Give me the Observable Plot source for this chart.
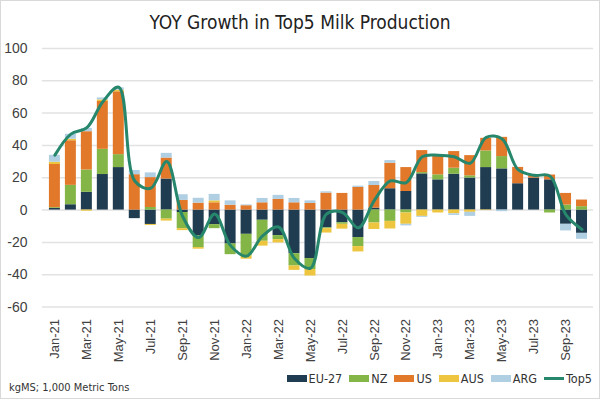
<!DOCTYPE html>
<html>
<head>
<meta charset="utf-8">
<script src="https://cdn.jsdelivr.net/npm/d3@7"></script>
<script src="https://cdn.jsdelivr.net/npm/@observablehq/plot@0.6"></script>
<style>
  body { margin: 0; background: #fff; }
  #wrap { position: relative; width: 600px; height: 399px; box-sizing: border-box; border: 1px solid #d9d9d9; overflow: hidden; font-family: "Liberation Sans", Arial, sans-serif; background:#fff; }
  #title { position: absolute; top: 10px; left: 0; width: 598px; text-align: center; font-size: 19px; color: #222; font-family: "Liberation Sans Narrow", "DejaVu Sans Condensed", "Liberation Sans", sans-serif; }
  #chart { position: absolute; top: 29px; left: -1px; }
  #legend { position: absolute; top: 370px; right: 7px; display: flex; align-items: center; gap: 7px; font-size: 12.5px; color: #333; font-family: "Liberation Sans Narrow", "DejaVu Sans Condensed", "Liberation Sans", sans-serif; }
  .item { display: flex; align-items: center; gap: 2px; }
  .sw { display: inline-block; width: 20px; height: 7px; }
  .ln { display: inline-block; width: 20px; height: 3px; }
  #caption { position: absolute; top: 380px; left: 8px; font-size: 11px; color: #333; font-family: "Liberation Sans Narrow", "DejaVu Sans Condensed", "Liberation Sans", sans-serif; }
</style>
</head>
<body>
<div id="wrap">
  <div id="title">YOY Growth in Top5 Milk Production</div>
  <div id="chart"></div>
  <div id="legend"></div>
  <div id="caption">kgMS; 1,000 Metric Tons</div>
</div>
<script>
const months = ["Jan-21","Feb-21","Mar-21","Apr-21","May-21","Jun-21","Jul-21","Aug-21","Sep-21","Oct-21","Nov-21","Dec-21",
  "Jan-22","Feb-22","Mar-22","Apr-22","May-22","Jun-22","Jul-22","Aug-22","Sep-22","Oct-22","Nov-22","Dec-22",
  "Jan-23","Feb-23","Mar-23","Apr-23","May-23","Jun-23","Jul-23","Aug-23","Sep-23","Oct-23"];
const tickMonths = ["Jan-21","Mar-21","May-21","Jul-21","Sep-21","Nov-21","Jan-22","Mar-22","May-22","Jul-22","Sep-22","Nov-22","Jan-23","Mar-23","May-23","Jul-23","Sep-23"];
const yTicks = [-60, -40, -20, 0, 20, 40, 60, 80, 100];
const countries = ["EU-27", "NZ", "US", "AUS", "ARG"];
const colors = ["#1f3c50", "#84b547", "#e2782a", "#eec53e", "#b0cfe3"];
const lineName = "Top5";
const lineColor = "#26876c";

const eu27 = [1, 3.3, 11, 22, 26.3, -5.3, -8.9, 19.2, -1.5, -16, -9, -21, -15, -6.3, -15.8, -27, -30, -11, -7.8, -17, 1.2, 13.2, 11.5, 22.4, 18.7, 22.2, 19.8, 26.3, 25.5, 16.3, 19.8, 18.7, -8.8, -14.4];
const nz   = [0.5, 12, 13.8, 15.6, 8, 0, 1.6, -5.6, -10, -7.2, -2.5, -6.6, -13.4, -13, -2.5, -7.6, -6.8, -0.5, -1, -5.6, -8, -7, -1.8, 0.8, 3.1, 3.7, 1.4, 10.3, 7.6, 0, 0, -1.8, 3.1, 2.1];
const us   = [26.7, 27.6, 23.7, 29.6, 38.9, 21.9, 18.5, 13, 6, 4.3, 4.5, 3, 2.7, 4.5, 6.6, 4.5, 4.1, 10.5, 10.3, 14, 14, 15.8, 14.8, 13.6, 12.3, 10.3, 12.5, 7.8, 11.9, 10.1, 2, 3, 7.2, 4.1];
const aus  = [1.4, 1, -0.7, 1, 1, 0, -0.6, -1.2, -1.2, -1, 1.2, 0, -2, -3, -2, -2.7, -4, -2.7, -3, -3.3, -4, -4.7, -7, -3.9, -1.8, -2.3, -1.4, -0.3, 0, 0, 0, 0, 0, 0];
const arg  = [4.3, 3, 2, 1.2, 1.4, 2.6, 2.9, 2.9, 3.5, 3, 4, 2.7, 0.5, 2.7, 2.5, 2.7, 1.6, 0.8, 0, 0.8, 2.5, 1.6, -1, -0.6, 0, -1, -2.5, 0, -1, 0, 0, 0, -4.1, -3.7];
const top5 = [34, 47, 51, 67, 76, 18, 13.5, 30, -4, -17, -2.5, -22, -28.5, -16, -10.5, -30, -36, -2.5, -1.5, -11, 6, 18, 17, 33, 34, 33, 29, 45, 44, 25, 21.5, 21, -3, -12];

const seriesValues = [eu27, nz, us, aus, arg];
const rows = [];
countries.forEach((c, ci) => months.forEach((m, i) => rows.push({month: m, country: c, value: seriesValues[ci][i]})));
const lineRows = months.map((m, i) => ({month: m, value: top5[i]}));

const chart = Plot.plot({
  width: 600,
  height: 337,
  marginTop: 18,
  marginBottom: 60,
  marginLeft: 42,
  marginRight: 6,
  style: {fontFamily: "'Liberation Sans', Arial, sans-serif", color: "#404040", background: "transparent"},
  x: {domain: months, padding: 0.32, label: null, axis: null},
  y: {domain: [-60, 100], label: null, axis: null},
  color: {domain: countries, range: colors},
  marks: [
    Plot.ruleY(yTicks, {stroke: "#e2e2e2", strokeWidth: 1.5}),
    Plot.axisY({ticks: yTicks, tickSize: 0, tickPadding: 15, fontSize: 14, tickFormat: d => String(d), label: null}),
    Plot.axisX({ticks: tickMonths, tickRotate: -90, tickSize: 0, tickPadding: 12, fontSize: 13, label: null}),
    Plot.barY(rows, {x: "month", y: "value", fill: "country", order: countries}),
    Plot.line(lineRows, {x: "month", y: "value", stroke: lineColor, strokeWidth: 3, curve: "catmull-rom"})
  ]
});
document.getElementById("chart").appendChild(chart);

const legend = document.getElementById("legend");
countries.forEach((c, i) => {
  const it = document.createElement("div");
  it.className = "item";
  it.innerHTML = `<span class="sw" style="background:${colors[i]}"></span><span>${c}</span>`;
  legend.appendChild(it);
});
const it = document.createElement("div");
it.className = "item";
it.innerHTML = `<span class="ln" style="background:${lineColor}"></span><span>${lineName}</span>`;
legend.appendChild(it);
</script>
</body>
</html>
